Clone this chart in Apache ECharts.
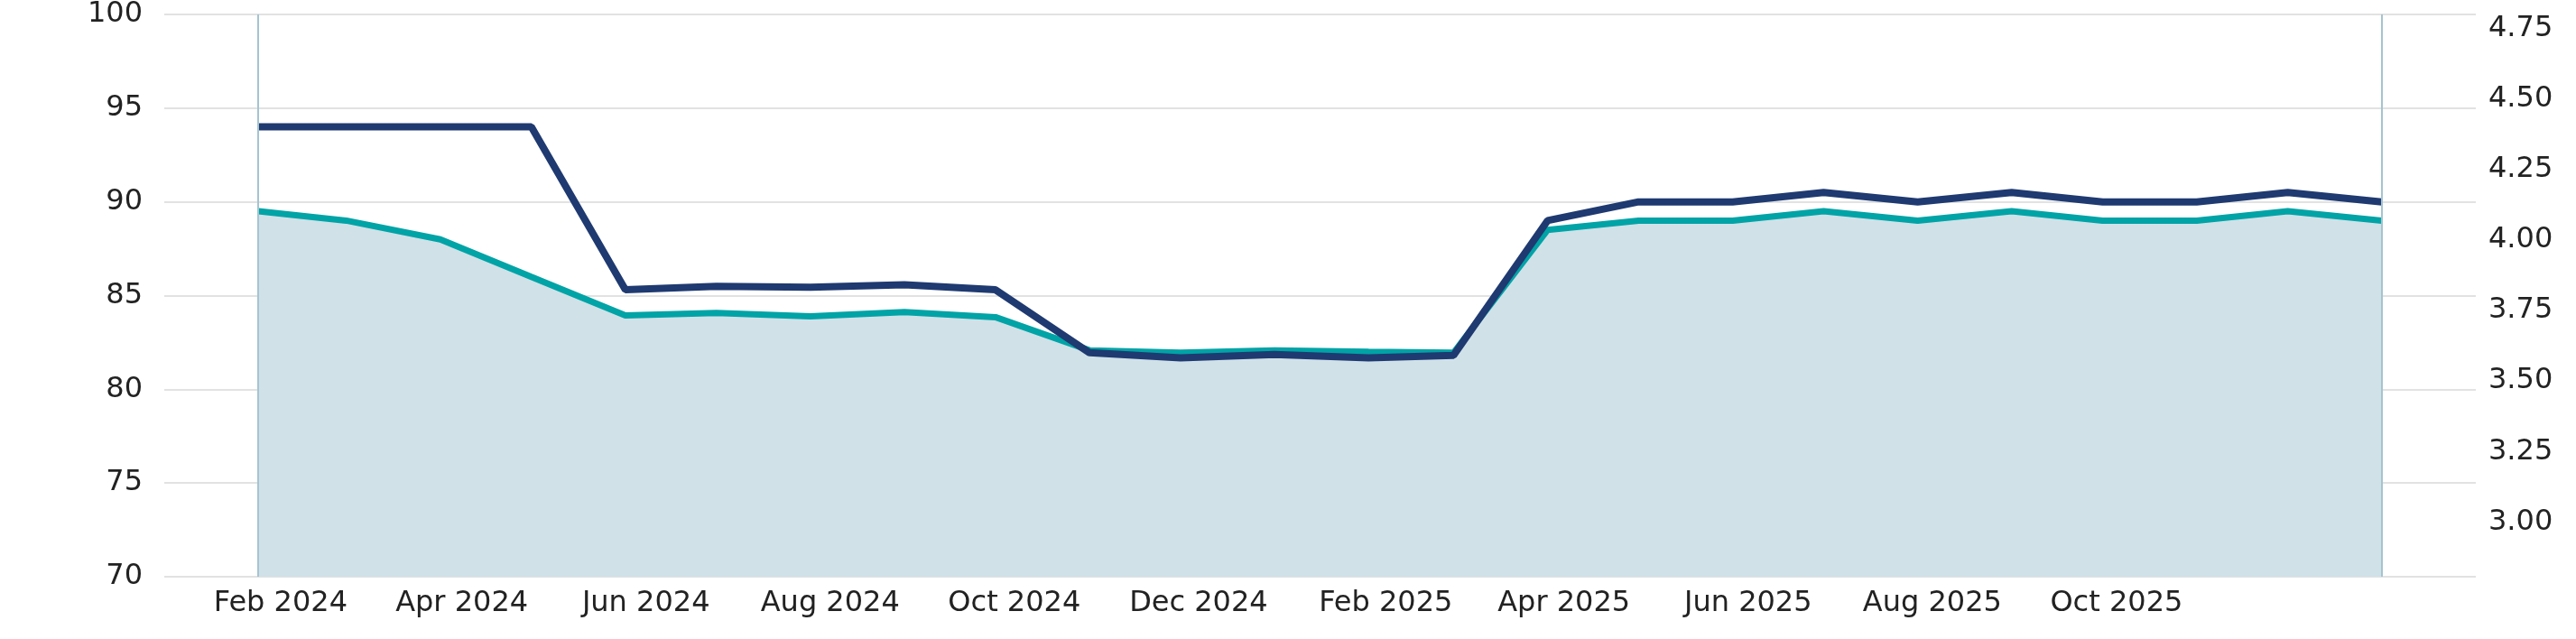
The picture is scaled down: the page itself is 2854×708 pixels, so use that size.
<!DOCTYPE html>
<html>
<head>
<meta charset="utf-8">
<style>html,body{margin:0;padding:0;background:#fff}#chart{width:2854px;height:708px}</style>
<script src="https://cdn.jsdelivr.net/npm/echarts@6/dist/echarts.min.js"></script>
</head>
<body>
<div id="chart"></div>
<script>
// monthly points, Feb 2024 .. Jan 2026
var months = ['2024-02-01','2024-03-01','2024-04-01','2024-05-01','2024-06-01','2024-07-01','2024-08-01',
  '2024-09-01','2024-10-01','2024-11-01','2024-12-01','2025-01-01','2025-02-01','2025-03-01','2025-04-01',
  '2025-05-01','2025-06-01','2025-07-01','2025-08-01','2025-09-01','2025-10-01','2025-11-01','2025-12-01','2026-01-01'];
var tealValues = [89.5, 89, 88, 86.0, 83.94, 84.07, 83.89, 84.12, 83.85, 82.08, 81.95, 82.08, 82.0, 81.95, 88.5,
  89, 89, 89.5, 89, 89.5, 89, 89, 89.5, 89];
var navyValues = [94, 94, 94, 94, 85.31, 85.49, 85.44, 85.58, 85.31, 81.95, 81.68, 81.86, 81.68, 81.81, 89,
  90, 90, 90.5, 90, 90.5, 90, 90, 90.5, 90];
var xLabelDates = ['2023-12-01','2024-02-01','2024-04-01','2024-06-01','2024-08-01','2024-10-01','2024-12-01',
  '2025-02-01','2025-04-01','2025-06-01','2025-08-01','2025-10-01','2025-12-01'];
var rightTicks = [3, 3.25, 3.5, 3.75, 4, 4.25, 4.5, 4.75];

var monthNames = ['Jan','Feb','Mar','Apr','May','Jun','Jul','Aug','Sep','Oct','Nov','Dec'];
function ts(d) { return +new Date(d + 'T00:00:00'); }
function pts(vals) { return months.map(function (m, i) { return [ts(m), vals[i]]; }); }
var lowVals = tealValues.map(function (v, i) { return Math.min(v, navyValues[i]); });
var gapVals = tealValues.map(function (v, i) { return Math.abs(v - navyValues[i]); });

var chart = echarts.init(document.getElementById('chart'));
var txt = { color: '#222', fontSize: 32, fontFamily: 'DejaVu Sans' };
chart.setOption({
  animation: false,
  grid: [
    { left: 182, right: 111, top: -595, bottom: 69 },
    { left: 60, right: 111, top: -595, bottom: 69 }
  ],
  xAxis: [
    { type: 'value', gridIndex: 0, min: ts('2024-01-01'), max: ts('2026-02-01'),
      axisLine: { show: false }, axisTick: { show: false }, axisLabel: { show: false }, splitLine: { show: false } },
    { type: 'value', gridIndex: 1, min: ts('2023-11-18'), max: ts('2026-01-28'),
      axisLine: { show: false }, axisTick: { show: false }, splitLine: { show: false },
      axisLabel: Object.assign({ margin: 14, showMinLabel: false, showMaxLabel: false,
        customValues: xLabelDates.map(ts),
        formatter: function (v) { var d = new Date(v); return monthNames[d.getMonth()] + ' ' + d.getFullYear(); } }, txt) }
  ],
  yAxis: [
    { type: 'value', gridIndex: 0, min: 70, max: 100, interval: 5,
      axisLine: { show: false }, axisTick: { show: false },
      splitLine: { lineStyle: { color: '#e2e2e2', width: 2 } },
      axisLabel: Object.assign({ margin: 24 }, txt) },
    { type: 'value', gridIndex: 0, position: 'right', min: 2.806, max: 4.8,
      axisLine: { show: false }, axisTick: { show: false }, splitLine: { show: false },
      axisLabel: Object.assign({ margin: 14, customValues: rightTicks,
        formatter: function (v) { return v.toFixed(2); } }, txt) },
    { type: 'value', gridIndex: 1, show: false, min: 70, max: 100 }
  ],
  series: [
    { type: 'line', stack: 'band', data: pts(lowVals), symbol: 'none', lineStyle: { width: 0 },
      areaStyle: { color: '#d0e1e8', opacity: 1 }, z: 1,
      markLine: { silent: true, symbol: 'none', label: { show: false },
        lineStyle: { color: '#a6c4d0', width: 2, type: 'solid' },
        data: [{ xAxis: ts(months[0]) }, { xAxis: ts(months[months.length - 1]) }] } },
    { type: 'line', stack: 'band', data: pts(gapVals), symbol: 'none', lineStyle: { width: 0 },
      areaStyle: { color: '#e7eaef', opacity: 1 }, z: 1 },
    { type: 'line', data: pts(tealValues), symbol: 'none', lineStyle: { color: '#00a3a6', width: 7 }, z: 3 },
    { type: 'line', data: pts(navyValues), symbol: 'none', lineStyle: { color: '#1f3a70', width: 8 }, z: 4 }
  ]
});
</script>
</body>
</html>
